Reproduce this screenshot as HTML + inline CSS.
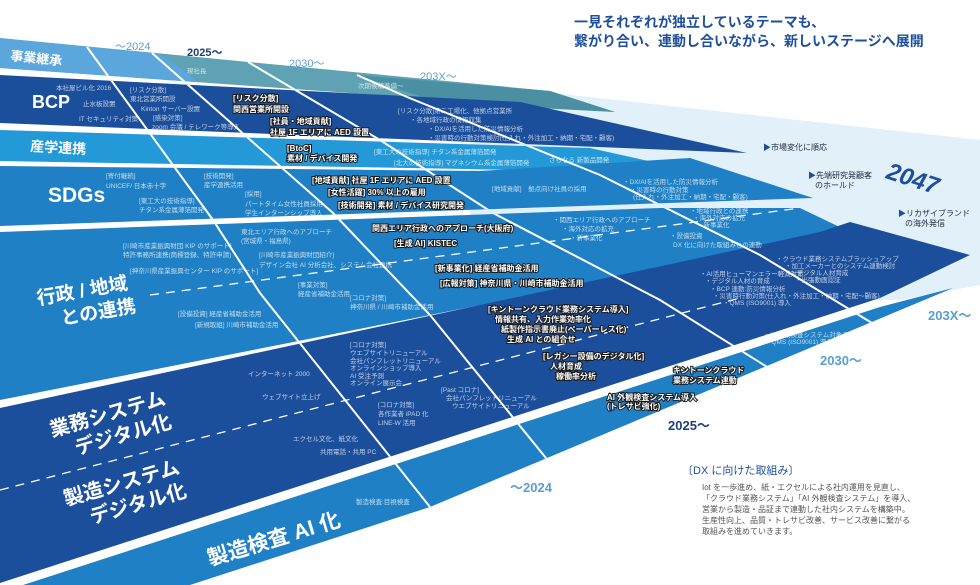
<!DOCTYPE html>
<html><head><meta charset="utf-8"><style>
html,body{margin:0;padding:0;background:#fff;}
svg{display:block;font-family:"Liberation Sans","Noto Sans CJK JP",sans-serif;}
.s{fill:#fff;fill-opacity:.72;font-size:6.5px;}
.h{fill:#fff;font-size:8px;font-weight:bold;stroke:#1a1a1a;stroke-width:2px;paint-order:stroke;}
.lbl{fill:#fff;font-weight:bold;}
.yr{font-weight:bold;}
.r{fill:#1f2d44;font-size:8px;}
</style></head><body>
<svg width="980" height="585" viewBox="0 0 980 585">
<defs>
<clipPath id="bands">
<polygon points="0,38 550,91 615,112 0,68"/>
<polygon points="0,75 520,102 747,153 0,123"/>
<polygon points="0,130 590,148 702,173 0,161"/>
<polygon points="0,166 480,171 690,158 813,198 0,226"/>
<polygon points="0,232 660,208 800,208 850,232 0,400"/>
<polygon points="0,408 820,232 850,222 970,255 880,298 0,583"/>
<polygon points="20,586 880,307 953,288 430,507 190,585"/>
</clipPath>
</defs>
<polygon points="470,84 980,140 980,285 900,300 470,300" fill="#e1f0f9"/>
<g>
<polygon points="0,38 550,91 615,112 0,68" fill="#5fa2b3"/>
<polygon points="0,38 160,54 210,90 0,68" fill="#5ba6dd" clip-path="url(#bands)"/>
<polygon points="357,75 550,91 615,112 440,103" fill="#4a8fa2"/>
<polygon points="0,75 520,102 747,153 0,123" fill="#1b4f9c"/>
<polygon points="0,130 590,148 702,173 0,161" fill="#2399d8"/>
<polygon points="0,166 480,171 690,158 813,198 0,226" fill="#1f80c6"/>
<polygon points="0,232 660,208 800,208 850,232 0,400" fill="#1f80c6"/>
<polygon points="0,408 820,232 850,222 970,255 880,298 0,583" fill="#1b4f9c"/>
<polygon points="20,586 880,307 953,288 430,507 190,585" fill="#1f80c6"/>
</g>
<g clip-path="url(#bands)" stroke="#fff" stroke-width="2" fill="none">
<polyline points="87,47 213,220 260,293 430,507"/>
<polyline points="152,53 333,213 430,315 507,410 580,500"/>
<polyline points="248,62 380,140 493,213 660,300 820,400"/>
<polyline points="357,75 407,97 600,175 760,255 900,340"/>
</g>
<g stroke="#fff" stroke-width="1.3" stroke-dasharray="9,7" fill="none" clip-path="url(#bands)">
<line x1="150" y1="295" x2="800" y2="208"/>
<line x1="0" y1="490" x2="740" y2="298"/>
</g>
<g fill="#1d4f9c" font-size="14" font-weight="bold">
<text x="574" y="27">一見それぞれが独立しているテーマも、</text>
<text x="574" y="46">繋がり合い、連動し合いながら、新しいステージへ展開</text>
</g>
<g font-size="11">
<text x="115" y="50" fill="#5a9ed6">〜2024</text>
<text x="187" y="56" fill="#1d3f7a" class="yr">2025〜</text>
<text x="289" y="67" fill="#5a9ed6">2030〜</text>
<text x="420" y="80" fill="#5a9ed6">203X〜</text>
</g>
<g font-size="13" class="yr">
<text x="510" y="492" fill="#5a9ed6">〜2024</text>
<text x="668" y="430" fill="#1d3f7a">2025〜</text>
<text x="820" y="365" fill="#5a9ed6">2030〜</text>
<text x="928" y="320" fill="#5a9ed6">203X〜</text>
</g>
<g class="lbl">
<text x="10" y="60" font-size="13" transform="rotate(6 10 60)">事業継承</text>
<text x="32" y="108" font-size="18">BCP</text>
<text x="30" y="151" font-size="14" transform="rotate(3 30 151)">産学連携</text>
<text x="48" y="202" font-size="21">SDGs</text>
<text x="38" y="305" font-size="19" transform="rotate(-10 38 305)">行政 / 地域</text>
<text x="62" y="325" font-size="19" transform="rotate(-10 62 325)">との連携</text>
<text x="52" y="437" font-size="20" transform="rotate(-16 52 437)">業務システム</text>
<text x="77" y="455" font-size="20" transform="rotate(-16 77 455)">デジタル化</text>
<text x="66" y="506" font-size="20" transform="rotate(-16 66 506)">製造システム</text>
<text x="92" y="524" font-size="20" transform="rotate(-16 92 524)">デジタル化</text>
<text x="210" y="566" font-size="21" transform="rotate(-17 210 566)">製造検査 AI 化</text>
</g>
<g class="s">
<text x="187" y="73">現社長</text>
<text x="358" y="88">次期候補準備〜</text>
<text x="56" y="90">本社屋ビル化 2016</text>
<text x="83" y="106">止水板設置</text>
<text x="79" y="121">IT セキュリティ対策</text>
<text x="130" y="92">[リスク分散]</text><text x="130" y="101">東北営業所開設</text>
<text x="141" y="111">Kinton サーバー設置</text>
<text x="153" y="120">[感染対策]</text><text x="152" y="129">zoom 会議 / テレワーク等導入</text>
<text x="398" y="113">[リスク分散]第二工場化、他拠点営業所</text>
<text x="410" y="122">・各地域行政の情報収集</text>
<text x="428" y="131">・DX/AIを活用した防災情報分析</text>
<text x="428" y="140">・災害時の行動対策検討(仕入れ・外注加工・納期・宅配・顧客)</text>
<text x="374" y="154">[東工大の技術指導] チタン系金属薄箔開発</text>
<text x="394" y="165">[北大の技術指導] マグネシウム系金属薄箔開発</text>
<text x="549" y="162">さらなる 新製品開発</text>
<text x="106" y="178">[寄付継続]</text><text x="106" y="188">UNICEF/ 日本赤十字</text>
<text x="139" y="203">[東工大の技術指導]</text><text x="139" y="212">チタン系金属薄箔開発</text>
<text x="204" y="178">[技術開発]</text><text x="204" y="187">産学連携活用</text>
<text x="245" y="196">[採用]</text><text x="245" y="206">パートタイム女性社員採用</text><text x="245" y="215">学生インターンシップ導入</text>
<text x="492" y="191">[地域貢献]　拠点向け社員の採用</text>
<text x="623" y="184">・DX/AIを活用した防災情報分析</text>
<text x="630" y="192">・災害時の行動対策</text>
<text x="633" y="199">(仕入れ・外注加工・納期・宅配・顧客)</text>
<text x="123" y="248">[川崎市産業振興財団 KIP のサポート]</text>
<text x="123" y="257">特許事務所連携(商標登録、特許申請)</text>
<text x="130" y="273">[神奈川県産業振興センター KIP のサポート]</text>
<text x="241" y="234">東北エリア行政へのアプローチ</text><text x="241" y="243">(宮城県・福島県)</text>
<text x="259" y="257">[川崎市産業振興財団紹介]</text>
<text x="259" y="267">デザイン会社 AI 分析会社、システム会社連携</text>
<text x="298" y="287">[事業対策]</text><text x="298" y="296">経産省補助金活用</text>
<text x="350" y="300">[コロナ対策]</text><text x="350" y="309">神奈川県 / 川崎市補助金活用</text>
<text x="178" y="316">[設備投資] 経産省補助金活用</text>
<text x="195" y="327">[新規取組] 川崎市補助金活用</text>
<text x="553" y="222">・関西エリア行政へのアプローチ</text>
<text x="562" y="231">・海外対応の拡充</text><text x="570" y="240">・新事業化</text>
<text x="690" y="213">・地域行政との連携</text><text x="693" y="220">・海外対応の拡充</text><text x="697" y="227">・新事業化</text>
<text x="670" y="238">・設備投資</text><text x="673" y="247">DX 化に向けた取組みとの連動</text>
<text x="248" y="376">インターネット 2000</text>
<text x="262" y="399">ウェブサイト立上げ</text>
<text x="293" y="441">エクセル文化、紙文化</text>
<text x="320" y="454">共用電話・共用 PC</text>
<text x="350" y="347">[コロナ対策]</text><text x="350" y="355">ウエブサイトリニューアル</text>
<text x="350" y="363">会社パンフレットリニューアル</text><text x="350" y="370">オンラインショップ導入</text>
<text x="350" y="378">AI 受注予測</text><text x="350" y="385">オンライン展示会</text>
<text x="378" y="407">[コロナ対策]</text><text x="378" y="416">各作業者 iPAD 化</text><text x="378" y="425">LINE-W 活用</text>
<text x="441" y="392">[Past コロナ]</text><text x="446" y="400">会社パンフレットリニューアル</text><text x="452" y="408">ウエブサイトリニューアル</text>
<text x="700" y="276">・AI活用ヒューマンエラー軽減対策</text>
<text x="705" y="283">・デジタル人材の育成</text>
<text x="710" y="291">・BCP 連動:防災情報分析</text>
<text x="713" y="298">・災害時行動対策(仕入れ・外注加工・納期・宅配〜顧客)</text>
<text x="723" y="305">・QMS (ISO9001) 導入</text>
<text x="776" y="261">・クラウド業務システムブラッシュアップ</text>
<text x="785" y="268">・加工メーカーとのシステム連動検討</text>
<text x="790" y="275">・デジタル人材育成</text>
<text x="795" y="282">・出張動画認証</text>
<text x="356" y="504">製造検査:目視検査</text>
<text x="763" y="337">・AI 外観検査システム対象品拡大</text>
<text x="765" y="344">・QMS (ISO9001) 導入</text>
</g>
<g class="h">
<text x="233" y="101">[リスク分散]</text><text x="233" y="112">関西営業所開設</text>
<text x="270" y="124">[社員・地域貢献]</text><text x="270" y="135">社屋 1F エリアに AED 設置</text>
<text x="287" y="151">[BtoC]</text><text x="287" y="161">素材 / デバイス開発</text>
<text x="312" y="183">[地域貢献] 社屋 1F エリアに AED 設置</text>
<text x="328" y="195">[女性活躍] 30% 以上の雇用</text>
<text x="338" y="208">[技術開発] 素材 / デバイス研究開発</text>
<text x="372" y="231">関西エリア行政へのアプローチ(大阪府)</text>
<text x="394" y="246">[生成 AI] KISTEC</text>
<text x="435" y="271">[新事業化] 経産省補助金活用</text>
<text x="440" y="286">[広報対策] 神奈川県・川崎市補助金活用</text>
<text x="488" y="312">[キントーンクラウド業務システム導入]</text>
<text x="495" y="322">情報共有、入力作業効率化</text>
<text x="501" y="332">紙製作指示書廃止(ペーパーレス化)</text>
<text x="507" y="342">生成 AI との組合せ</text>
<text x="543" y="359">[レガシー設備のデジタル化]</text>
<text x="550" y="369">人材育成</text><text x="556" y="379">稼働率分析</text>
<text x="673" y="373">キントーンクラウド</text><text x="673" y="383">業務システム連動</text>
<text x="607" y="400">AI 外観検査システム導入</text><text x="607" y="409">(トレサビ強化)</text>
</g>
<g>
<text class="r" x="763" y="150"><tspan fill="#1d4f9c">▶</tspan>市場変化に順応</text>
<text class="r" x="808" y="178"><tspan fill="#1d4f9c">▶</tspan>先端研究発顧客</text>
<text class="r" x="815" y="188">のホールド</text>
<text class="r" x="898" y="216"><tspan fill="#1d4f9c">▶</tspan>リカザイブランド</text>
<text class="r" x="905" y="226">の海外発信</text>
<text x="885" y="178" font-size="24" font-weight="bold" font-style="italic" fill="#1d4f9c" transform="rotate(18 885 178)">2047</text>
</g>
<g>
<text x="682" y="474" font-size="11" fill="#1d4f9c">〔DX に向けた取組み〕</text>
<g font-size="8" fill="#555">
<text x="702" y="490">Iot を一歩進め、紙・エクセルによる社内運用を見直し、</text>
<text x="702" y="501">「クラウド業務システム」「AI 外観検査システム」を導入、</text>
<text x="702" y="512">営業から製造・品証まで連動した社内システムを構築中。</text>
<text x="702" y="523">生産性向上、品質・トレサビ改善、サービス改善に繋がる</text>
<text x="702" y="534">取組みを進めていきます。</text>
</g>
</g>
</svg>
</body></html>
